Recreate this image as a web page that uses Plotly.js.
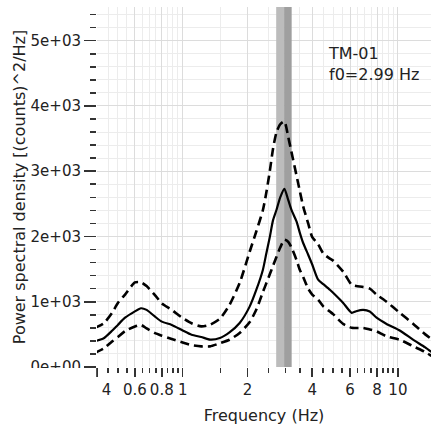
<!DOCTYPE html>
<html>
<head>
<meta charset="utf-8">
<script src="https://cdn.plot.ly/plotly-3.0.1.min.js"></script>
<style>html,body{margin:0;padding:0;background:#fff;}#chart{width:431px;height:425px;}</style>
</head>
<body>
<div id="chart"></div>
<script>
// Frequencies (Hz) at which the curves were read
const freq = [0.39, 0.43, 0.47, 0.50, 0.54, 0.60, 0.64, 0.68, 0.74, 0.80, 0.89, 1.00, 1.10, 1.22, 1.34, 1.49, 1.65, 1.84, 2.05, 2.20, 2.36, 2.45, 2.54, 2.63, 2.73, 2.84, 2.97, 3.09, 3.20, 3.38, 3.50, 3.63, 3.83, 4.00, 4.26, 4.50, 4.83, 5.00, 5.57, 6.10, 6.40, 6.90, 7.40, 7.96, 8.86, 10.2, 11.8, 13.4, 14.3];
// Mean power spectral density
const psdMean = [392, 440, 555, 645, 755, 852, 900, 875, 778, 695, 645, 560, 494, 460, 420, 444, 530, 674, 929, 1184, 1491, 1747, 1990, 2250, 2410, 2600, 2730, 2564, 2410, 2230, 2060, 1900, 1720, 1570, 1338, 1270, 1184, 1137, 981, 830, 855, 875, 850, 755, 660, 560, 415, 300, 230];
// Upper bound (dashed)
const psdUpper = [598, 670, 830, 981, 1110, 1296, 1300, 1240, 1110, 975, 875, 750, 670, 622, 648, 740, 950, 1287, 1770, 2080, 2405, 2680, 3000, 3345, 3600, 3720, 3763, 3534, 3300, 2935, 2700, 2461, 2200, 1990, 1880, 1740, 1660, 1630, 1460, 1260, 1240, 1225, 1200, 1110, 1000, 830, 660, 500, 430];
// Lower bound (dashed)
const psdLower = [215, 285, 390, 460, 550, 622, 645, 590, 522, 480, 430, 375, 335, 316, 316, 365, 418, 521, 690, 880, 1150, 1287, 1420, 1550, 1690, 1830, 1950, 1920, 1835, 1640, 1491, 1380, 1200, 1110, 1031, 930, 850, 810, 660, 600, 598, 598, 575, 546, 470, 418, 316, 230, 170];

// Peak frequency band (f0 spread: low, split, high)
const f0Band = [2.72, 2.96, 3.21];
const stationName = "TM-01";
const f0Label = "f0=2.99 Hz";

// Tick labels
const xTickVals = [0.4, 0.6, 0.8, 1, 2, 4, 6, 8, 10];
const xTickText = ["\u00a0\u00a0\u00a0\u00a04", "0.6", "0.8", "1", "2", "4", "6", "8", "10"];
const xMinorVals = [0.45, 0.5, 0.55, 0.65, 0.7, 0.75, 0.85, 0.9, 0.95, 1.5, 2.5, 3, 3.5, 4.5, 5, 5.5, 6.5, 7, 7.5, 8.5, 9, 9.5];
const yTickVals = [0, 1000, 2000, 3000, 4000, 5000];
const yTickText = ["0e+00", "1e+03", "2e+03", "3e+03", "4e+03", "5e+03"];

const Y_MAX = 5516;
const FONT = "DejaVu Sans, Verdana, sans-serif";
const TXT = "#222";

function bandTrace(x0, x1, color) {
  return {x: [x0, x1, x1, x0, x0], y: [0, 0, Y_MAX, Y_MAX, 0], type: "scatter", mode: "lines",
          fill: "toself", fillcolor: color, line: {width: 0, color: color}, hoverinfo: "skip"};
}

const traces = [
  bandTrace(f0Band[0], f0Band[1], "#bcbcbc"),
  bandTrace(f0Band[1], f0Band[2], "#9f9f9f"),
  {x: freq, y: psdUpper, type: "scatter", mode: "lines",
   line: {color: "#000", width: 2.6, dash: "9px,5px", shape: "spline", smoothing: 0.6}, hoverinfo: "skip"},
  {x: freq, y: psdLower, type: "scatter", mode: "lines",
   line: {color: "#000", width: 2.6, dash: "9px,5px", shape: "spline", smoothing: 0.6}, hoverinfo: "skip"},
  {x: freq, y: psdMean, type: "scatter", mode: "lines",
   line: {color: "#000", width: 2.2, shape: "spline", smoothing: 0.6}, hoverinfo: "skip"}
];

const layout = {
  width: 431, height: 425,
  margin: {l: 97, r: 0, t: 7, b: 58},
  paper_bgcolor: "#fff", plot_bgcolor: "#fff",
  showlegend: false,
  font: {family: FONT, size: 15, color: TXT},
  xaxis: {
    type: "log",
    range: [Math.log10(0.4), Math.log10(14.25)],
    tickmode: "array", tickvals: xTickVals, ticktext: xTickText,
    tickangle: 0,
    ticks: "outside", ticklen: 9, tickwidth: 1.6, tickcolor: "#333",
    showgrid: true, gridcolor: "#dcdcdc", gridwidth: 1,
    minor: {tickmode: "array", tickvals: xMinorVals, ticks: "outside", ticklen: 5,
            tickwidth: 1.6, tickcolor: "#333", showgrid: true, gridcolor: "#ececec", gridwidth: 1},
    showline: false, zeroline: false,
    tickfont: {family: FONT, size: 15, color: TXT},
    title: {text: "Frequency (Hz)", font: {family: FONT, size: 16, color: TXT}}
  },
  yaxis: {
    range: [0, Y_MAX],
    tickmode: "array", tickvals: yTickVals, ticktext: yTickText,
    ticks: "outside", ticklen: 12, tickwidth: 1.6, tickcolor: "#333",
    showgrid: true, gridcolor: "#dcdcdc", gridwidth: 1,
    minor: {tickmode: "linear", dtick: 200, ticks: "outside", ticklen: 6,
            tickwidth: 1.6, tickcolor: "#333", showgrid: true, gridcolor: "#ececec", gridwidth: 1},
    showline: false, zeroline: false,
    tickfont: {family: FONT, size: 15, color: TXT},
    title: {text: "Power spectral density [(counts)^2/Hz]", font: {family: FONT, size: 16, color: TXT}}
  },
  shapes: [
    // clip region under the plot's lower-left corner (labels cut off there in the original)
    {type: "rect", xref: "paper", yref: "paper", x0: -0.3, x1: -0.0025, y0: -0.15, y1: -0.003,
     fillcolor: "#fff", line: {width: 0}, layer: "above"}
  ],
  annotations: [
    {xref: "paper", yref: "paper", x: 0.687, y: 0.9036, xanchor: "left", yanchor: "top",
     align: "left", showarrow: false, text: stationName + "<br>" + f0Label,
     font: {family: FONT, size: 16, color: TXT}}
  ]
};

Plotly.newPlot("chart", traces, layout, {staticPlot: true, displayModeBar: false});
</script>
</body>
</html>
